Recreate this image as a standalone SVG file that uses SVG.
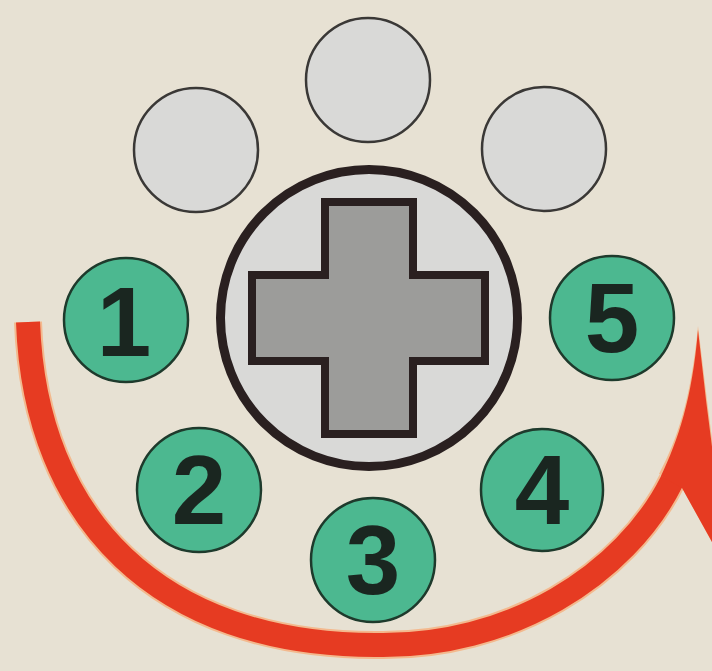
<svg xmlns="http://www.w3.org/2000/svg" width="712" height="671" viewBox="0 0 712 671">
<style>
.grey{fill:#d9d9d7;stroke:#3a3836;stroke-width:2.5}
.green{fill:#4cb890;stroke:#1e3a2c;stroke-width:2.5}
.num{font-family:"Liberation Sans",Arial,sans-serif;font-weight:bold;font-size:98px;fill:#1a2620;text-anchor:middle}
.band{fill:none;stroke:#e63b22;stroke-width:24;stroke-linecap:butt}
.halo{fill:none;stroke:#f3b98e;stroke-width:28;stroke-linecap:butt}
</style>
<rect width="712" height="671" fill="#e7e1d3"/>
<g id="top-left"><circle class="grey" cx="196" cy="150" r="62"/></g>
<g id="top-middle"><circle class="grey" cx="368" cy="80" r="62"/></g>
<g id="top-right"><circle class="grey" cx="544" cy="149" r="62"/></g>
<g id="dpad">
<circle cx="369" cy="318" r="148.5" fill="#d9d9d7" stroke="#2a2020" stroke-width="9"/>
<path d="M325,202 H413 V275 H485 V361 H413 V434 H325 V361 H252 V275 H325 Z" fill="#9c9c9a" stroke="#2a2020" stroke-width="8" stroke-linejoin="miter"/>
</g>
<g id="b1"><circle class="green" cx="126" cy="320" r="62"/><text class="num" x="124" y="356">1</text></g>
<g id="b2"><circle class="green" cx="199" cy="490" r="62"/><text class="num" x="199" y="524">2</text></g>
<g id="b3"><circle class="green" cx="373" cy="560" r="62"/><text class="num" x="373" y="594">3</text></g>
<g id="b4"><circle class="green" cx="542" cy="490" r="61"/><text class="num" x="542" y="524">4</text></g>
<g id="b5"><circle class="green" cx="612" cy="318" r="62"/><text class="num" x="612" y="352">5</text></g>
<g id="connectors">
<path class="halo" d="M28,322 C35,520 160,645 375,645 C510,648 625,575 672,481"/>
<path d="M659,474 C677,440 691,400 698,326 L707,400 L716,470 L724,564 L681,486 Z" fill="#f3b98e"/>
<path class="band" d="M28,322 C35,520 160,645 375,645 C510,648 625,575 672,481"/>
<path d="M661,476 C678,440 692,400 698,330 L706,400 L715,470 L722,560 L682,488 Z" fill="#e63b22"/>
</g>
</svg>
